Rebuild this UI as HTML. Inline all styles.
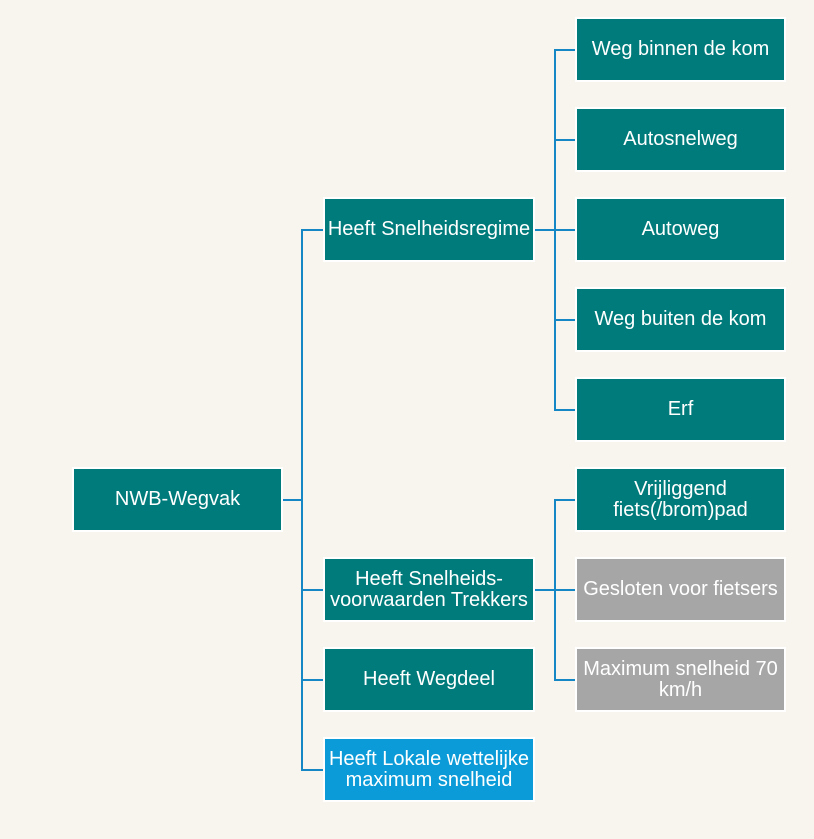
<!DOCTYPE html>
<html><head><style>
body{margin:0;width:814px;height:839px;background:#f8f5ef;position:relative;overflow:hidden;font-family:"Liberation Sans",Arial,sans-serif}
.b{position:absolute;box-sizing:border-box;border:2px solid #fff;background:#007b7b;color:#fff;font-size:20px;line-height:21px;display:flex;align-items:center;justify-content:center;text-align:center;white-space:nowrap}
.g{background:#a6a6a6}
.l{background:#0a9bd8}
.h,.v{position:absolute;background:#1587c4}
.h{height:2px}.v{width:2px}
</style></head><body>
<div class="h" style="left:282px;top:499px;width:21px"></div>
<div class="v" style="left:301px;top:229px;height:542px"></div>
<div class="h" style="left:301px;top:229px;width:24px"></div>
<div class="h" style="left:301px;top:589px;width:24px"></div>
<div class="h" style="left:301px;top:679px;width:24px"></div>
<div class="h" style="left:301px;top:769px;width:24px"></div>
<div class="h" style="left:533px;top:229px;width:44px"></div>
<div class="v" style="left:554px;top:49px;height:362px"></div>
<div class="h" style="left:554px;top:49px;width:23px"></div>
<div class="h" style="left:554px;top:139px;width:23px"></div>
<div class="h" style="left:554px;top:319px;width:23px"></div>
<div class="h" style="left:554px;top:409px;width:23px"></div>
<div class="h" style="left:533px;top:589px;width:44px"></div>
<div class="v" style="left:554px;top:499px;height:182px"></div>
<div class="h" style="left:554px;top:499px;width:23px"></div>
<div class="h" style="left:554px;top:679px;width:23px"></div>

<div class="b" style="left:72px;top:467px;width:211px;height:65px">NWB-Wegvak</div>
<div class="b" style="left:323px;top:197px;width:212px;height:65px">Heeft Snelheidsregime</div>
<div class="b" style="left:323px;top:557px;width:212px;height:65px">Heeft Snelheids-<br>voorwaarden Trekkers</div>
<div class="b" style="left:323px;top:647px;width:212px;height:65px">Heeft Wegdeel</div>
<div class="b l" style="left:323px;top:737px;width:212px;height:65px">Heeft Lokale wettelijke<br>maximum snelheid</div>
<div class="b" style="left:575px;top:17px;width:211px;height:65px">Weg binnen de kom</div>
<div class="b" style="left:575px;top:107px;width:211px;height:65px">Autosnelweg</div>
<div class="b" style="left:575px;top:197px;width:211px;height:65px">Autoweg</div>
<div class="b" style="left:575px;top:287px;width:211px;height:65px">Weg buiten de kom</div>
<div class="b" style="left:575px;top:377px;width:211px;height:65px">Erf</div>
<div class="b" style="left:575px;top:467px;width:211px;height:65px">Vrijliggend<br>fiets(/brom)pad</div>
<div class="b g" style="left:575px;top:557px;width:211px;height:65px">Gesloten voor fietsers</div>
<div class="b g" style="left:575px;top:647px;width:211px;height:65px">Maximum snelheid 70<br>km/h</div>
</body></html>
